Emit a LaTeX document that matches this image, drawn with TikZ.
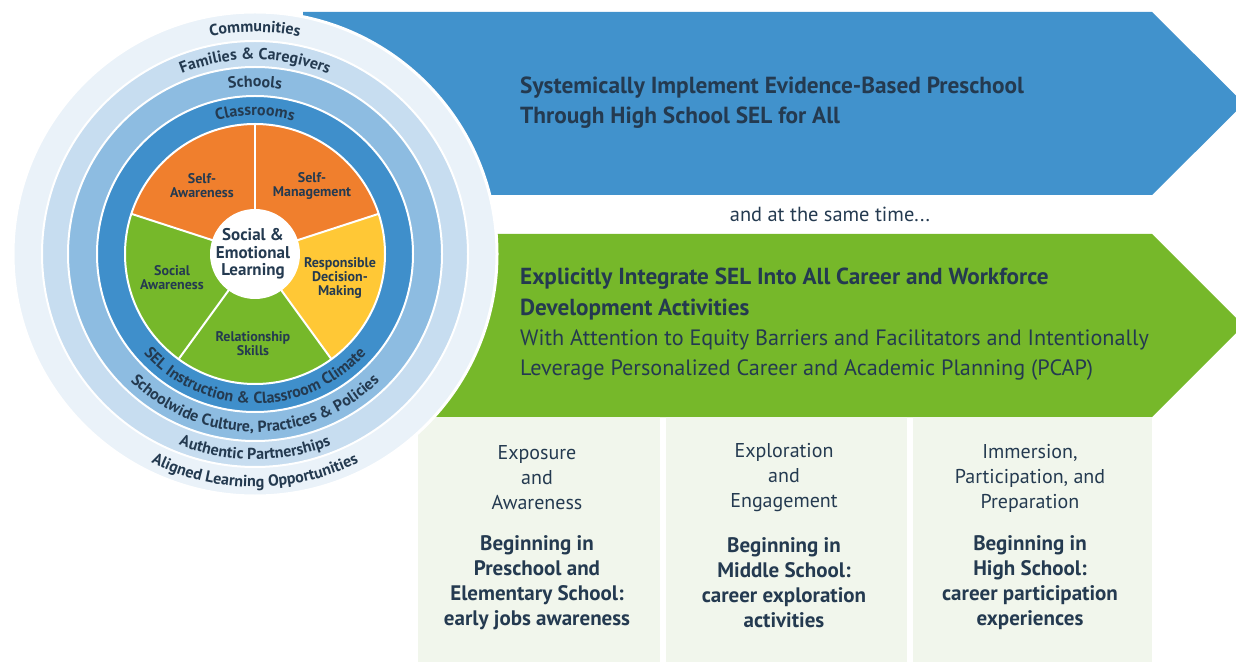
\documentclass[tikz,border=0pt]{standalone}
\usepackage{fontspec}
\setmainfont{PT Sans}
\usetikzlibrary{decorations.text}

\definecolor{arrowblue}{HTML}{4192CC}
\definecolor{arrowgreen}{HTML}{76B82A}
\definecolor{ringA}{HTML}{EAF2F9}
\definecolor{ringB}{HTML}{C7DDF0}
\definecolor{ringC}{HTML}{8DBCE1}
\definecolor{ringD}{HTML}{3F8FCB}
\definecolor{selorange}{HTML}{F07F2D}
\definecolor{selyellow}{HTML}{FFC836}
\definecolor{selgreen}{HTML}{76B82A}
\definecolor{navy}{HTML}{243A50}
\definecolor{panelbg}{HTML}{F1F6EC}

\newcommand{\ringfont}{\fontsize{16}{16}\selectfont\bfseries\color{navy}}

\begin{document}
\begin{tikzpicture}[x=1pt,y=1pt,
    ringtext/.style={decorate,decoration={text along path,text align=center,text={|\ringfont|#1}}},
    wedgelabel/.style={align=center,text=navy,inner sep=0,font=\fontsize{14}{14}\selectfont\bfseries},
    stagetext/.style={align=center,text=navy,inner sep=0,font=\fontsize{20}{25}\selectfont},
    startext/.style={align=center,text=navy,inner sep=0,font=\fontsize{21}{25}\selectfont\bfseries}]
\useasboundingbox (0,0) rectangle (1236,662);
\coordinate (c) at (255,408);

% the two arrows
\fill[arrowblue] (303,650) -- (1152,650) -- (1244,558.5) -- (1152,467) -- (303,467) -- cycle;
\fill[arrowgreen] (400,428) -- (1152,428) -- (1243.5,336.5) -- (1152,245) -- (400,245) -- cycle;

\node[anchor=west,align=left,inner sep=0,text=navy,font=\fontsize{23.3}{30}\selectfont\bfseries] (goalone) at (520,559)
  {Systemically Implement Evidence-Based Preschool\\Through High School SEL for All};
\node[inner sep=0,text=navy,font=\fontsize{20.4}{22}\selectfont] (sametime) at (830,448) {and at the same time...};
\node[anchor=west,align=left,inner sep=0,text=navy,font=\fontsize{22.2}{30.3}\selectfont] (goaltwo) at (520,337.5)
  {{\fontsize{23.2}{30.3}\selectfont\bfseries Explicitly Integrate SEL Into All Career and Workforce}\\
   {\fontsize{23.2}{30.3}\selectfont\bfseries Development Activities}\\
   With Attention to Equity Barriers and Facilitators and Intentionally\\Leverage Personalized Career and Academic Planning (PCAP)};

% stage panels
\fill[panelbg] (418,245) rectangle (660,0);
\fill[panelbg] (666,245) rectangle (907,0);
\fill[panelbg] (913,245) rectangle (1152,0);

\node[stagetext] (stageone) at (537,184) {Exposure\\and\\Awareness};
\node[startext] (startone) at (537,79.5) {Beginning in\\Preschool and\\Elementary School:\\early jobs awareness};
\node[stagetext] (stagetwo) at (784,184) {Exploration\\and\\Engagement};
\node[startext] (starttwo) at (784,79.5) {Beginning in\\Middle School:\\career exploration\\activities};
\node[stagetext] (stagethree) at (1030,184) {Immersion,\\Participation, and\\Preparation};
\node[startext] (startthree) at (1030,79.5) {Beginning in\\High School:\\career participation\\experiences};

% rings
\filldraw[fill=ringA,draw=white,line width=3] (c) circle[radius=242];
\filldraw[fill=ringB,draw=white,line width=2] (c) circle[radius=213];
\filldraw[fill=ringC,draw=white,line width=2] (c) circle[radius=187];
\filldraw[fill=ringD,draw=white,line width=2] (c) circle[radius=158];

% wedges
\foreach \a/\b/\col in {18/90/selorange,90/162/selorange,162/234/selgreen,234/306/selgreen,306/378/selyellow}
  \fill[\col] (c) -- ++(\a:130) arc[start angle=\a,end angle=\b,radius=130] -- cycle;
\foreach \a in {18,90,162,234,306}
  \draw[white,line width=2] (c) -- ++(\a:130);
\draw[white,line width=2] (c) circle[radius=130];
\fill[white] (c) circle[radius=45];

\node[align=center,text=navy,inner sep=0,font=\fontsize{17}{17.5}\selectfont\bfseries] (sel) at (253,408) {Social \&\\Emotional\\Learning};
\node[wedgelabel] (selfaware) at (202,476) {Self-\\Awareness};
\node[wedgelabel] (selfmanage) at (312,476) {Self-\\Management};
\node[wedgelabel] (decision) at (340,384) {Responsible\\Decision-\\Making};
\node[wedgelabel] (relation) at (253,318.5) {Relationship\\Skills};
\node[wedgelabel] (socaware) at (172,384.5) {Social\\Awareness};

% ring labels, top
\path[ringtext={Communities}] (c) ++(160:222) arc[start angle=160,end angle=20,radius=222];
\path[ringtext={Families {\&} Caregivers}] (c) ++(160:194.5) arc[start angle=160,end angle=20,radius=194.5];
\path[ringtext={Schools}] (c) ++(160:167) arc[start angle=160,end angle=20,radius=167];
\path[ringtext={Classrooms}] (c) ++(160:138.5) arc[start angle=160,end angle=20,radius=138.5];
% ring labels, bottom
\path[ringtext={SEL Instruction {\&} Classroom Climate}] (c) ++(185:149.5) arc[start angle=185,end angle=355,radius=149.5];
\path[ringtext={Schoolwide Culture, Practices {\&} Policies}] (c) ++(185:178) arc[start angle=185,end angle=355,radius=178];
\path[ringtext={Authentic Partnerships}] (c) ++(185:205.5) arc[start angle=185,end angle=355,radius=205.5];
\path[ringtext={Aligned Learning Opportunities}] (c) ++(185:233) arc[start angle=185,end angle=355,radius=233];
\end{tikzpicture}
\end{document}
